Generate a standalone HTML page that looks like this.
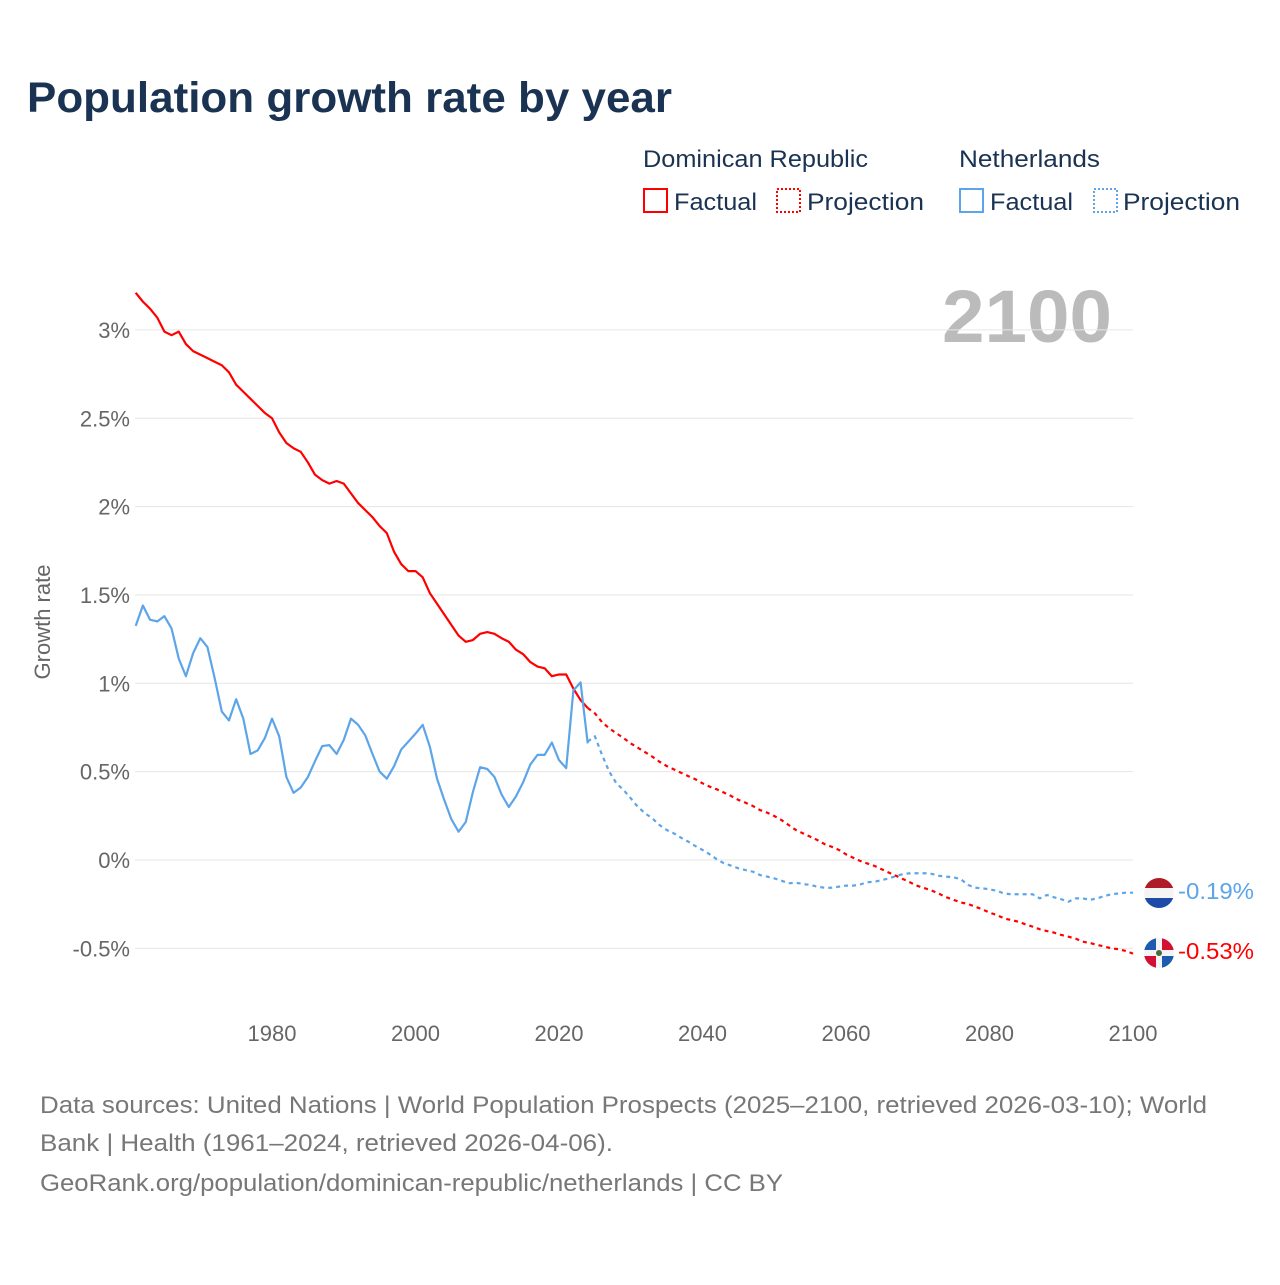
<!DOCTYPE html>
<html><head><meta charset="utf-8">
<style>
html,body{margin:0;padding:0;background:#fff;}
body{width:1280px;height:1280px;position:relative;overflow:hidden;font-family:"Liberation Sans",sans-serif;}
svg text{font-family:"Liberation Sans",sans-serif;}
</style></head>
<body>
<svg id="chart" width="1280" height="1280" viewBox="0 0 1280 1280" xmlns="http://www.w3.org/2000/svg">
  <text x="27" y="112" font-size="43" font-weight="bold" fill="#1a3352" textLength="645" lengthAdjust="spacingAndGlyphs">Population growth rate by year</text>
  <g font-size="24" fill="#1a3352">
    <text x="643" y="167" textLength="225" lengthAdjust="spacingAndGlyphs">Dominican Republic</text>
    <text x="959" y="167" textLength="141" lengthAdjust="spacingAndGlyphs">Netherlands</text>
    <g>
      <rect x="644" y="189" width="23" height="23" fill="none" stroke="#ff0000" stroke-width="2"/>
      <text x="674" y="210" textLength="83" lengthAdjust="spacingAndGlyphs">Factual</text>
    </g>
    <g>
      <rect x="777" y="189" width="23" height="23" fill="none" stroke="#ff0000" stroke-width="2" stroke-dasharray="2,2"/>
      <text x="807" y="210" textLength="117" lengthAdjust="spacingAndGlyphs">Projection</text>
    </g>
    <g>
      <rect x="960" y="189" width="23" height="23" fill="none" stroke="#5da5e8" stroke-width="2"/>
      <text x="990" y="210" textLength="83" lengthAdjust="spacingAndGlyphs">Factual</text>
    </g>
    <g>
      <rect x="1094" y="189" width="23" height="23" fill="none" stroke="#5da5e8" stroke-width="2" stroke-dasharray="2,2"/>
      <text x="1123" y="210" textLength="117" lengthAdjust="spacingAndGlyphs">Projection</text>
    </g>
  </g>
  <text x="1112" y="342" font-size="74" font-weight="bold" fill="#bbbbbb" text-anchor="end" textLength="170" lengthAdjust="spacingAndGlyphs">2100</text>
  <g id="grid"></g>
  <g id="yticks" font-size="22" fill="#666" text-anchor="end"></g>
  <g id="xticks" font-size="22" fill="#666" text-anchor="middle"></g>
  <text transform="translate(50,622) rotate(-90)" font-size="22" fill="#666" text-anchor="middle">Growth rate</text>
  <g id="series"></g>
  <g>
    <g>
      <clipPath id="cnl"><circle cx="1159" cy="893" r="15"/></clipPath>
      <g clip-path="url(#cnl)">
        <rect x="1144" y="878" width="30" height="10" fill="#ae1c28"/>
        <rect x="1144" y="888" width="30" height="10" fill="#f4f4f4"/>
        <rect x="1144" y="898" width="30" height="10" fill="#1e4aa8"/>
      </g>
    </g>
    <text x="1178" y="899" font-size="23" fill="#5da5e8" textLength="76" lengthAdjust="spacingAndGlyphs">-0.19%</text>
    <g>
      <clipPath id="cdr"><circle cx="1159" cy="953" r="15"/></clipPath>
      <g clip-path="url(#cdr)">
        <rect x="1144" y="938" width="30" height="30" fill="#f4f4f4"/>
        <rect x="1144" y="938" width="12" height="12" fill="#1e5bb0"/>
        <rect x="1162" y="938" width="12" height="12" fill="#d21034"/>
        <rect x="1144" y="956" width="12" height="12" fill="#d21034"/>
        <rect x="1162" y="956" width="12" height="12" fill="#1e5bb0"/>
        <circle cx="1159" cy="953" r="3" fill="#4a6a3a"/>
      </g>
    </g>
    <text x="1178" y="959" font-size="23" fill="#ff0000" textLength="76" lengthAdjust="spacingAndGlyphs">-0.53%</text>
  </g>
  <g font-size="24" fill="#777">
    <text x="40" y="1113" textLength="1167" lengthAdjust="spacingAndGlyphs">Data sources: United Nations | World Population Prospects (2025–2100, retrieved 2026-03-10); World</text>
    <text x="40" y="1151" textLength="573" lengthAdjust="spacingAndGlyphs">Bank | Health (1961–2024, retrieved 2026-04-06).</text>
    <text x="40" y="1191" textLength="743" lengthAdjust="spacingAndGlyphs">GeoRank.org/population/dominican-republic/netherlands | CC BY</text>
  </g>
</svg>
<script>
const yTicks = [-0.5, 0, 0.5, 1, 1.5, 2, 2.5, 3];
const yTickLabels = ["-0.5%", "0%", "0.5%", "1%", "1.5%", "2%", "2.5%", "3%"];
const xTicks = [1980, 2000, 2020, 2040, 2060, 2080, 2100];
const factualStartYear = 1961;
const projectionStartYear = 2024;
const drFactual = [3.21,3.16,3.12,3.07,2.99,2.97,2.99,2.92,2.88,2.86,2.84,2.82,2.80,2.76,2.69,2.65,2.61,2.57,2.53,2.50,2.42,2.36,2.33,2.31,2.25,2.18,2.15,2.13,2.145,2.13,2.075,2.02,1.98,1.94,1.89,1.85,1.745,1.675,1.635,1.635,1.60,1.51,1.45,1.39,1.33,1.27,1.235,1.245,1.28,1.29,1.28,1.255,1.235,1.19,1.165,1.12,1.095,1.085,1.04,1.05,1.05,0.97,0.905,0.86];
const nlFactual = [1.325,1.44,1.36,1.35,1.38,1.31,1.14,1.04,1.17,1.255,1.205,1.03,0.84,0.79,0.91,0.80,0.60,0.62,0.69,0.80,0.70,0.47,0.38,0.41,0.47,0.56,0.645,0.65,0.60,0.68,0.80,0.765,0.705,0.60,0.50,0.46,0.53,0.625,0.67,0.715,0.765,0.64,0.46,0.34,0.23,0.16,0.215,0.385,0.525,0.515,0.47,0.37,0.30,0.36,0.44,0.54,0.595,0.595,0.665,0.565,0.52,0.96,1.005,0.66];
const drProjection = [0.86,0.83,0.78,0.745,0.717,0.69,0.66,0.635,0.61,0.585,0.556,0.532,0.513,0.494,0.475,0.457,0.434,0.415,0.40,0.381,0.362,0.34,0.324,0.306,0.283,0.268,0.249,0.226,0.198,0.17,0.151,0.132,0.113,0.09,0.075,0.057,0.032,0.013,-0.006,-0.02,-0.034,-0.053,-0.072,-0.09,-0.109,-0.128,-0.147,-0.16,-0.174,-0.192,-0.211,-0.226,-0.24,-0.249,-0.264,-0.279,-0.298,-0.311,-0.33,-0.34,-0.349,-0.364,-0.377,-0.392,-0.402,-0.411,-0.424,-0.434,-0.445,-0.462,-0.47,-0.48,-0.49,-0.50,-0.505,-0.515,-0.53];
const nlProjection = [0.67,0.70,0.594,0.50,0.434,0.396,0.349,0.30,0.264,0.236,0.198,0.17,0.151,0.126,0.104,0.079,0.057,0.032,0.004,-0.019,-0.032,-0.047,-0.057,-0.066,-0.085,-0.094,-0.104,-0.117,-0.132,-0.128,-0.136,-0.141,-0.151,-0.157,-0.157,-0.151,-0.145,-0.145,-0.138,-0.126,-0.123,-0.113,-0.104,-0.09,-0.079,-0.075,-0.075,-0.075,-0.079,-0.09,-0.094,-0.098,-0.109,-0.141,-0.157,-0.16,-0.166,-0.174,-0.189,-0.194,-0.194,-0.194,-0.194,-0.217,-0.198,-0.211,-0.222,-0.236,-0.217,-0.217,-0.226,-0.217,-0.204,-0.194,-0.189,-0.185,-0.185];

const NS = "http://www.w3.org/2000/svg";
const X0 = 135.7, XPY = 7.175, Y0 = 860, YPP = 176.7;
const xs = yr => X0 + (yr - 1961) * XPY;
const ys = v => Y0 - v * YPP;

const grid = document.getElementById('grid');
const yt = document.getElementById('yticks');
yTicks.forEach((v, i) => {
  const l = document.createElementNS(NS, 'line');
  
  
  l.setAttribute('x1', 135); l.setAttribute('x2', 1133);
  l.setAttribute('y1', ys(v)); l.setAttribute('y2', ys(v));
  l.setAttribute('stroke', '#e6e6e6'); l.setAttribute('stroke-width', 1);
  grid.appendChild(l);
  const t = document.createElementNS(NS, 'text');
  
  
  t.setAttribute('x', 130); t.setAttribute('y', ys(v) + 8);
  t.textContent = yTickLabels[i];
  yt.appendChild(t);
});
const xt = document.getElementById('xticks');
xTicks.forEach(yr => {
  const t = document.createElementNS(NS, 'text');
  
  
  t.setAttribute('x', xs(yr)); t.setAttribute('y', 1041);
  t.textContent = yr;
  xt.appendChild(t);
});

const series = document.getElementById('series');
function drawLine(vals, startYear, color, dashed, name) {
  const p = document.createElementNS(NS, 'path');
  
  
  p.setAttribute('d', vals.map((v, i) => (i ? 'L' : 'M') + xs(startYear + i).toFixed(2) + ',' + ys(v).toFixed(2)).join(''));
  p.setAttribute('fill', 'none');
  p.setAttribute('stroke', color);
  p.setAttribute('stroke-width', 2.2);
  p.setAttribute('stroke-linejoin', 'round');
  if (dashed) p.setAttribute('stroke-dasharray', '4,4');
  series.appendChild(p);
}
drawLine(nlProjection, projectionStartYear, '#5da5e8', true, 'netherlands-projection-line');
drawLine(drProjection, projectionStartYear, '#ff0000', true, 'dominican-republic-projection-line');
drawLine(drFactual, factualStartYear, '#ff0000', false, 'dominican-republic-factual-line');
drawLine(nlFactual, factualStartYear, '#5da5e8', false, 'netherlands-factual-line');
</script>
</body></html>
